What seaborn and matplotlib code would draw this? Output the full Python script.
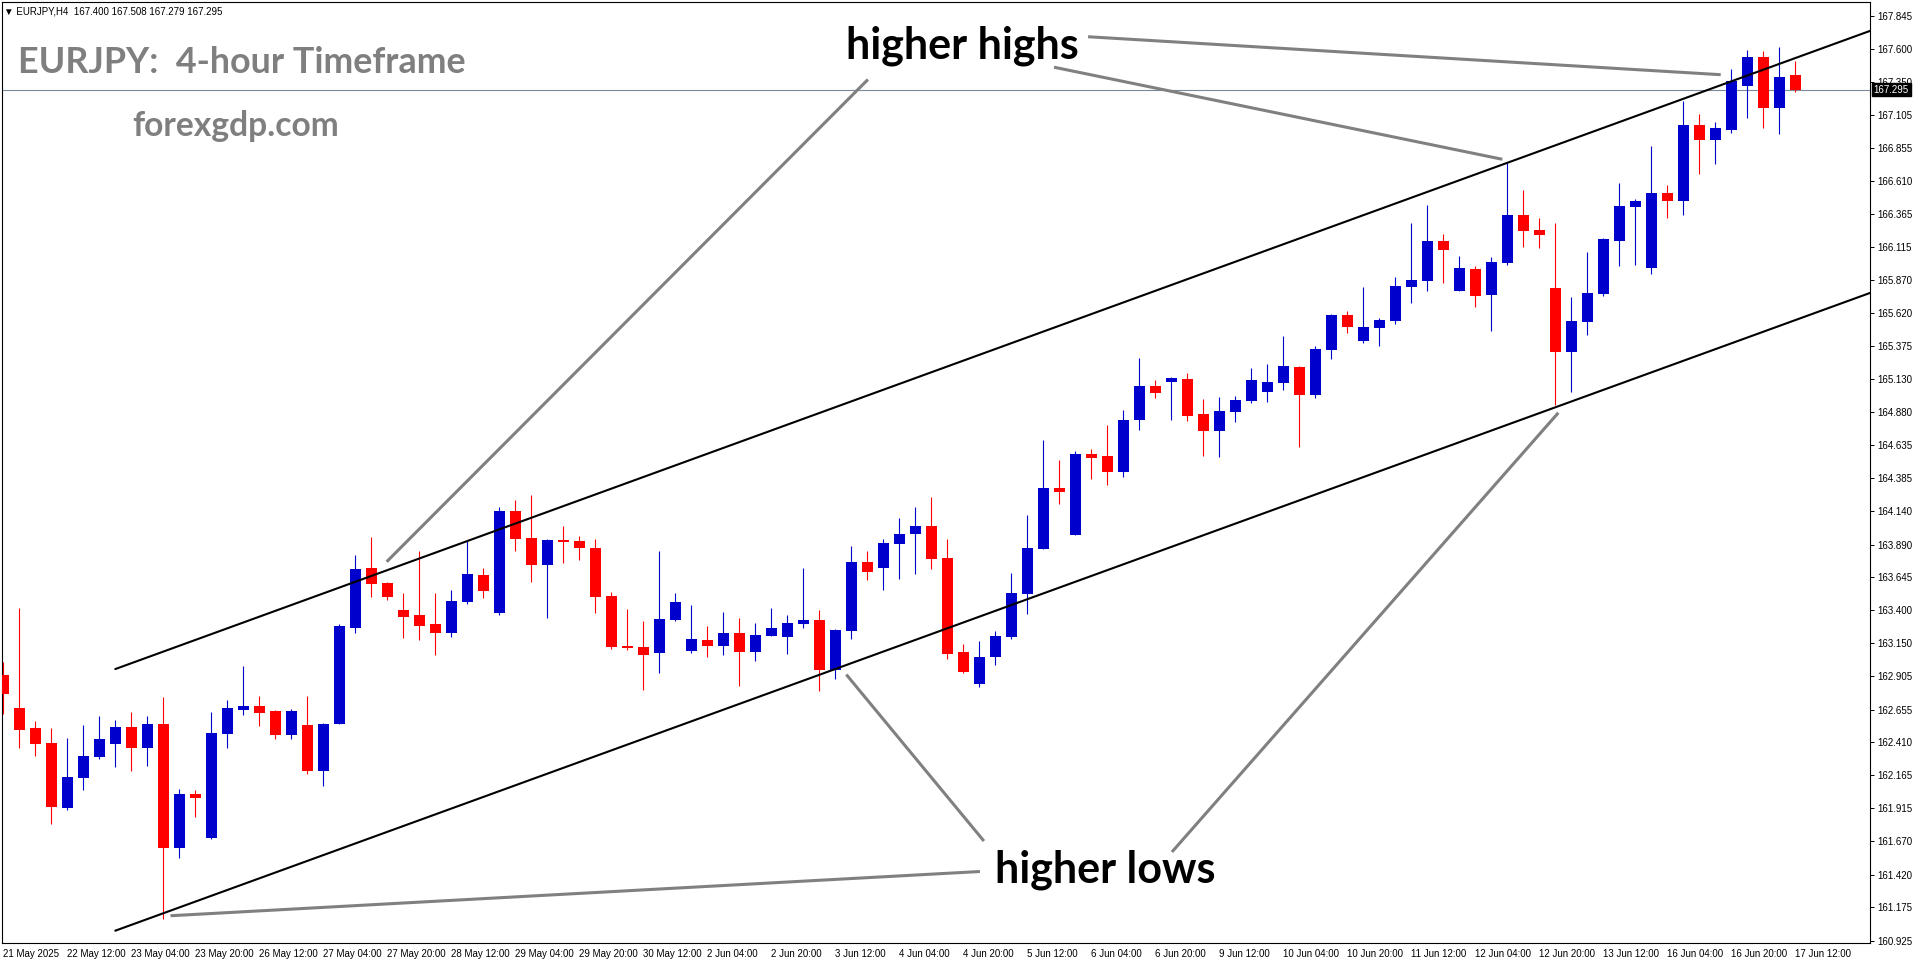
import numpy as np
import pandas as pd
import matplotlib
matplotlib.use('Agg')
import matplotlib.pyplot as plt
import seaborn as sns

# EURJPY H4 candles, 21 May 20:00 .. 17 Jun 12:00
opens = [162.914, 162.664, 162.515, 162.405, 161.921, 162.146, 162.300, 162.400, 162.525, 162.370,
         162.547, 161.622, 162.023, 161.697, 162.475, 162.654, 162.682, 162.644, 162.467, 162.540,
         162.198, 162.550, 163.265, 163.712, 163.602, 163.400, 163.362, 163.295, 163.230, 163.462,
         163.662, 163.380, 164.141, 163.939, 163.739, 163.924, 163.916, 163.864, 163.505, 163.133,
         163.125, 163.081, 163.328, 163.096, 163.175, 163.133, 163.228, 163.088, 163.208, 163.200,
         163.298, 163.325, 162.951, 163.245, 163.759, 163.717, 163.896, 163.971, 164.028, 163.789,
         163.086, 162.847, 163.051, 163.200, 163.522, 163.859, 164.313, 163.964, 164.566, 164.553,
         164.432, 164.821, 165.076, 165.110, 165.128, 164.868, 164.741, 164.883, 164.966, 165.033,
         165.102, 165.218, 165.009, 165.345, 165.607, 165.413, 165.510, 165.562, 165.817, 165.862,
         166.161, 165.787, 165.952, 165.757, 165.997, 166.356, 166.244, 165.812, 165.333, 165.558,
         165.767, 166.164, 166.418, 165.962, 166.521, 166.463, 167.030, 166.920, 166.995, 167.324,
         167.538, 167.159, 167.400]
highs = [163.011, 163.415, 162.567, 162.515, 162.442, 162.540, 162.607, 162.575, 162.637, 162.607,
         162.749, 162.061, 162.053, 162.637, 162.727, 162.981, 162.757, 162.650, 162.659, 162.757,
         162.557, 163.295, 163.812, 163.946, 163.610, 163.527, 163.841, 163.527, 163.550, 163.916,
         163.714, 164.171, 164.223, 164.260, 163.931, 164.028, 163.954, 163.931, 163.535, 163.407,
         163.318, 163.841, 163.527, 163.437, 163.280, 163.385, 163.340, 163.303, 163.415, 163.362,
         163.714, 163.400, 163.258, 163.879, 163.841, 163.931, 164.088, 164.171, 164.245, 163.931,
         163.145, 163.167, 163.243, 163.677, 164.111, 164.672, 164.522, 164.590, 164.605, 164.785,
         164.896, 165.285, 165.123, 165.143, 165.174, 164.979, 164.994, 164.999, 165.208, 165.241,
         165.450, 165.226, 165.375, 165.615, 165.637, 165.817, 165.585, 165.892, 166.296, 166.430,
         166.213, 166.049, 165.974, 166.041, 166.745, 166.543, 166.334, 166.296, 165.745, 166.079,
         166.184, 166.596, 166.476, 166.872, 166.581, 167.209, 167.112, 167.052, 167.449, 167.591,
         167.583, 167.613, 167.508]
lows = [162.624, 162.370, 162.310, 161.801, 161.901, 162.056, 162.288, 162.225, 162.198, 162.235,
        161.085, 161.547, 161.854, 161.690, 162.370, 162.617, 162.535, 162.435, 162.435, 162.175,
        162.083, 162.545, 163.228, 163.499, 163.477, 163.193, 163.178, 163.066, 163.200, 163.447,
        163.492, 163.365, 163.844, 163.612, 163.343, 163.754, 163.777, 163.380, 163.111, 163.103,
        162.804, 162.931, 163.320, 163.081, 163.051, 163.066, 162.835, 163.021, 163.205, 163.073,
        163.268, 162.796, 162.886, 163.185, 163.627, 163.552, 163.634, 163.672, 163.709, 163.036,
        162.930, 162.827, 162.991, 163.185, 163.372, 163.855, 164.196, 163.960, 164.381, 164.337,
        164.399, 164.747, 164.986, 164.821, 164.816, 164.556, 164.548, 164.808, 164.950, 164.953,
        165.048, 164.622, 164.989, 165.278, 165.475, 165.400, 165.378, 165.540, 165.697, 165.787,
        165.847, 165.785, 165.667, 165.488, 165.982, 166.119, 166.112, 164.934, 165.034, 165.461,
        165.752, 165.977, 165.982, 165.917, 166.336, 166.356, 166.665, 166.740, 166.972, 167.084,
        167.010, 166.965, 167.279]
closes = [162.772, 162.505, 162.400, 161.928, 162.150, 162.308, 162.435, 162.525, 162.370, 162.547,
          161.622, 162.023, 161.996, 162.480, 162.667, 162.682, 162.632, 162.467, 162.644, 162.198,
          162.550, 163.280, 163.707, 163.597, 163.500, 163.350, 163.283, 163.230, 163.467, 163.669,
          163.545, 164.141, 163.934, 163.739, 163.924, 163.911, 163.866, 163.500, 163.125, 163.118,
          163.066, 163.333, 163.460, 163.183, 163.133, 163.228, 163.088, 163.213, 163.265, 163.303,
          163.325, 162.951, 163.250, 163.759, 163.687, 163.901, 163.969, 164.028, 163.784, 163.073,
          162.938, 163.048, 163.205, 163.527, 163.864, 164.313, 164.285, 164.567, 164.538, 164.432,
          164.821, 165.076, 165.025, 165.136, 164.852, 164.741, 164.888, 164.971, 165.120, 165.107,
          165.226, 165.009, 165.353, 165.607, 165.520, 165.517, 165.570, 165.824, 165.869, 166.161,
          166.094, 165.959, 165.749, 166.004, 166.356, 166.239, 166.209, 165.333, 165.563, 165.772,
          166.177, 166.423, 166.461, 166.521, 166.463, 167.030, 166.920, 167.007, 167.359, 167.538,
          167.159, 167.389, 167.295]

date_labels = ['21 May 2025', '22 May 12:00', '23 May 04:00', '23 May 20:00', '26 May 12:00',
               '27 May 04:00', '27 May 20:00', '28 May 12:00', '29 May 04:00', '29 May 20:00',
               '30 May 12:00', '2 Jun 04:00', '2 Jun 20:00', '3 Jun 12:00', '4 Jun 04:00',
               '4 Jun 20:00', '5 Jun 12:00', '6 Jun 04:00', '6 Jun 20:00', '9 Jun 12:00',
               '10 Jun 04:00', '10 Jun 20:00', '11 Jun 12:00', '12 Jun 04:00', '12 Jun 20:00',
               '13 Jun 12:00', '16 Jun 04:00', '16 Jun 20:00', '17 Jun 12:00']

price_ticks = [167.845, 167.600, 167.350, 167.105, 166.855, 166.610, 166.365, 166.115, 165.870,
               165.620, 165.375, 165.130, 164.880, 164.635, 164.385, 164.140, 163.890, 163.645,
               163.400, 163.150, 162.905, 162.655, 162.410, 162.165, 161.915, 161.670, 161.420,
               161.175, 160.925]

last_price = 167.295
header = '\u25bc EURJPY,H4  167.400 167.508 167.279 167.295'

# channel lines (bar index, price)
upper_x = [7.0, 116.7]
upper_y = [162.958, 167.735]
lower_x = [7.0, 116.7]
lower_y = [161.000, 165.774]

# grey pointer lines: (x0, y0, x1, y1)
highs_pointers = [(67.8, 167.690, 107.34, 167.406),
                  (65.67, 167.462, 93.69, 166.773),
                  (54.04, 167.370, 23.96, 163.761)]
lows_pointers = [(61.29, 161.671, 52.69, 162.917),
                 (73.04, 161.589, 97.19, 164.876),
                 (61.04, 161.443, 10.45, 161.112)]

BULL = '#0000CC'
BEAR = '#FF0000'

df = pd.DataFrame({'open': opens, 'high': highs, 'low': lows, 'close': closes})
df['bar'] = np.arange(len(df))
cols = np.where(df['close'] >= df['open'], BULL, BEAR)
body_low = np.minimum(df['open'], df['close'])
body_h = np.maximum((df['close'] - df['open']).abs(), 0.008)

sns.set_style('white')
plt.rcParams['font.family'] = ['Liberation Sans', 'DejaVu Sans']

W, H = 1916, 964
fig = plt.figure(figsize=(W / 100, H / 100), dpi=100)
ax = fig.add_axes([2 / W, 21 / H, 1868 / W, 941 / H])

ax.axhline(last_price, color='#7a8a9a', lw=0.8, zorder=1)
ax.vlines(df['bar'], df['low'], df['high'], colors=cols, lw=0.8, zorder=2)
ax.bar(df['bar'], body_h, bottom=body_low, width=0.68, color=cols, linewidth=0, zorder=3)

# channel
sns.lineplot(x=upper_x, y=upper_y, ax=ax, color='black', lw=1.5, zorder=4)
sns.lineplot(x=lower_x, y=lower_y, ax=ax, color='black', lw=1.5, zorder=4)

for x0, y0, x1, y1 in highs_pointers + lows_pointers:
    ax.plot([x0, x1], [y0, y1], color='#808080', lw=2.2, solid_capstyle='butt', zorder=5)

ax.text(59.92, 167.525, 'higher highs', ha='center', va='baseline', fontsize=31,
        family='Lato', weight='bold', color='black', zorder=6)
ax.text(68.86, 161.360, 'higher lows', ha='center', va='baseline', fontsize=31,
        family='Lato', weight='bold', color='black', zorder=6)

ax.set_xlim(-0.08, 116.67)
ax.set_ylim(160.908, 167.950)

ax.yaxis.tick_right()
ax.set_yticks(price_ticks)
ax.set_yticklabels([f'{p:.3f}' for p in price_ticks])
ax.tick_params(axis='y', direction='out', length=3, width=0.7, labelsize=7, pad=2,
               colors='black')
ax.set_xticks(range(0, len(df), 4))
ax.set_xticklabels(date_labels, ha='left')
ax.tick_params(axis='x', direction='out', length=3, width=0.7, labelsize=7, pad=1,
               colors='black')
for s in ax.spines.values():
    s.set_color('black')
    s.set_linewidth(0.8)

ax.text(1.002, last_price, f'{last_price:.3f}', transform=ax.get_yaxis_transform(),
        ha='left', va='center', fontsize=7, color='white', zorder=10, clip_on=False,
        bbox=dict(facecolor='black', edgecolor='black', pad=1.2))

fig.text(4 / W, 1 - 11 / H, header, fontsize=7, va='center', ha='left', color='black')
fig.text(18 / W, 1 - 73 / H, 'EURJPY:  4-hour Timeframe', fontsize=25.8, family='Lato',
         weight='bold', color='#7f7f7f', va='baseline', ha='left')
fig.text(132 / W, 1 - 136 / H, 'forexgdp.com', fontsize=24.2, family='Lato',
         weight='bold', color='#7f7f7f', va='baseline', ha='left')

fig.savefig('out.png', dpi=100, facecolor='white')
